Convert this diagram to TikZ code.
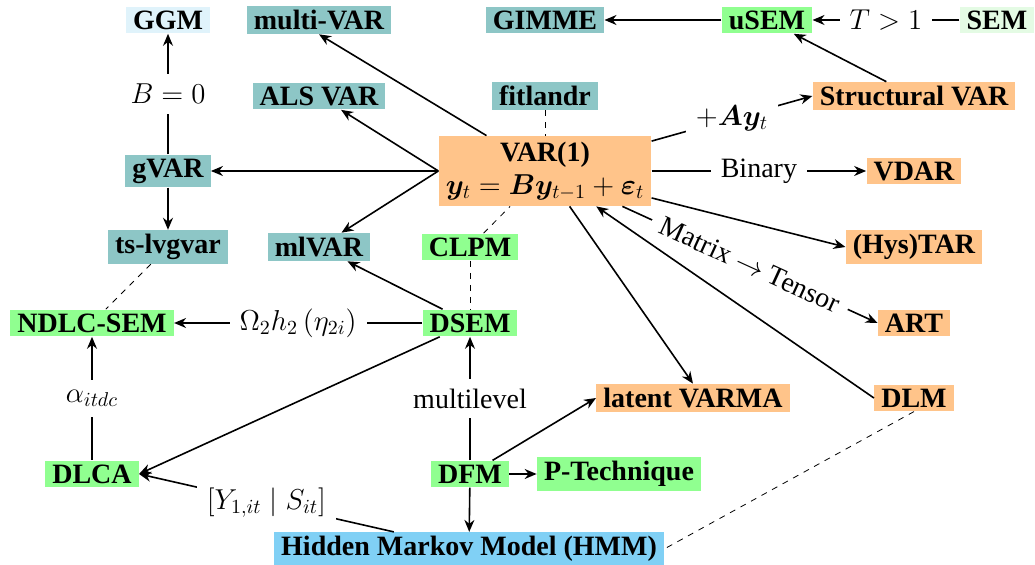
\documentclass[tikz,border=0pt]{standalone}
\usepackage{fontspec}
\setmainfont{Liberation Serif}
\usepackage{bm}
\usetikzlibrary{arrows.meta}

\definecolor{tealfill}{RGB}{141,198,198}
\definecolor{greenfill}{RGB}{144,255,144}
\definecolor{orangefill}{RGB}{255,196,138}
\definecolor{bluefill}{RGB}{128,208,245}
\definecolor{palebluefill}{RGB}{224,243,251}
\definecolor{palegreenfill}{RGB}{228,251,228}

\begin{document}
\begin{tikzpicture}[x=0.5pt, y=-0.5pt,
      >={Stealth[length=6pt,width=5pt]},
      every node/.style={font=\fontsize{14}{16.5}\selectfont},
      box/.style={font=\fontsize{14}{16.5}\selectfont\bfseries, inner xsep=3.5pt, inner ysep=2pt},
      pkgbox/.style={box, fill=tealfill},
      modelbox/.style={box, fill=orangefill},
      sembox/.style={box, fill=greenfill},
      link/.style={->, thick},
      faint/.style={dashed, thin},
      lbl/.style={fill=white, inner sep=5pt}]
  \useasboundingbox (0,0) rectangle (1035,565);

  % nodes, row by row
  \node[box, fill=palebluefill] (ggm) at (168,20) {GGM};
  \node[pkgbox] (multivar) at (319,20) {multi-VAR};
  \node[pkgbox] (gimme) at (545,20) {GIMME};
  \node[sembox] (usem) at (767,20) {uSEM};
  \node[box, fill=palegreenfill] (sem) at (997,20) {SEM};

  \node[pkgbox] (als) at (319,96) {ALS VAR};
  \node[pkgbox] (fitlandr) at (545,96) {fitlandr};
  \node[modelbox] (struct) at (914,96) {Structural VAR};

  \node[modelbox, align=center, minimum width=98pt, minimum height=35pt] (var) at (545,171)
    {VAR(1)\\ $\bm{y}_t=\bm{B}\bm{y}_{t-1}+\bm{\varepsilon}_t$};
  \node[pkgbox] (gvar) at (168,171) {gVAR};
  \node[modelbox] (vdar) at (914,171) {VDAR};

  \node[pkgbox] (tslvgvar) at (168,247) {ts-lvgvar};
  \node[pkgbox] (mlvar) at (319,247) {mlVAR};
  \node[sembox] (clpm) at (470,247) {CLPM};
  \node[modelbox] (hystar) at (914,247) {(Hys)TAR};

  \node[sembox] (ndlc) at (92,323) {NDLC-SEM};
  \node[sembox] (dsem) at (470,323) {DSEM};
  \node[modelbox] (art) at (914,323) {ART};

  \node[modelbox] (varma) at (693,398) {latent VARMA};
  \node[modelbox] (dlm) at (914,398) {DLM};

  \node[sembox] (dlca) at (92,474) {DLCA};
  \node[sembox] (dfm) at (470,474) {DFM};
  \node[sembox] (ptech) at (619,474) {P-Technique};

  \node[box, fill=bluefill] (hmm) at (469,549) {Hidden Markov Model (HMM)};

  % connectors
  \draw[link] (gvar) -- node[lbl] {$B=0$} (ggm);
  \draw[link] (gvar) -- (tslvgvar);
  \draw[link] (var) -- (multivar.south);
  \draw[link] (var.west) -- (als);
  \draw[link] (var.west) -- (gvar);
  \draw[link] (var.west) -- (mlvar);
  \draw[faint] (fitlandr) -- (var);
  \draw[faint] (clpm) -- (var);
  \draw[faint] (clpm) -- (dsem);
  \draw[link] (var) -- node[lbl] {$+\bm{A}\bm{y}_t$} (struct.west);
  \draw[link] (struct) -- (usem);
  \draw[link] (usem) -- (gimme);
  \draw[link] (sem) -- node[lbl] {$T>1$} (usem);
  \draw[link] (var) -- node[lbl] {Binary} (vdar);
  \draw[link] (var) -- (hystar.west);
  \draw[link] (var) -- node[lbl, sloped] {Matrix $\rightarrow$ Tensor} (art.west);
  \draw[link] (var) -- (varma.north);
  \draw[link] (dlm.west) -- (var);
  \draw[faint] (tslvgvar) -- (ndlc);
  \draw[link] (dsem) -- (mlvar);
  \draw[link] (dsem) -- node[lbl] {$\Omega_2 h_2\,(\eta_{2i})$} (ndlc);
  \draw[link] (dsem) -- (dlca.east);
  \draw[link] (dlca) -- node[lbl] {$\alpha_{itdc}$} (ndlc);
  \draw[link] (dfm) -- node[lbl] {multilevel} (dsem);
  \draw[link] (dfm) -- (hmm);
  \draw[link] (dfm) -- (ptech);
  \draw[link] (dfm) -- (varma.west);
  \draw[link] (hmm) -- node[lbl] {$[Y_{1,it}\mid S_{it}]$} (dlca.east);
  \draw[faint] (dlm.south) -- (hmm.east);
\end{tikzpicture}
\end{document}
